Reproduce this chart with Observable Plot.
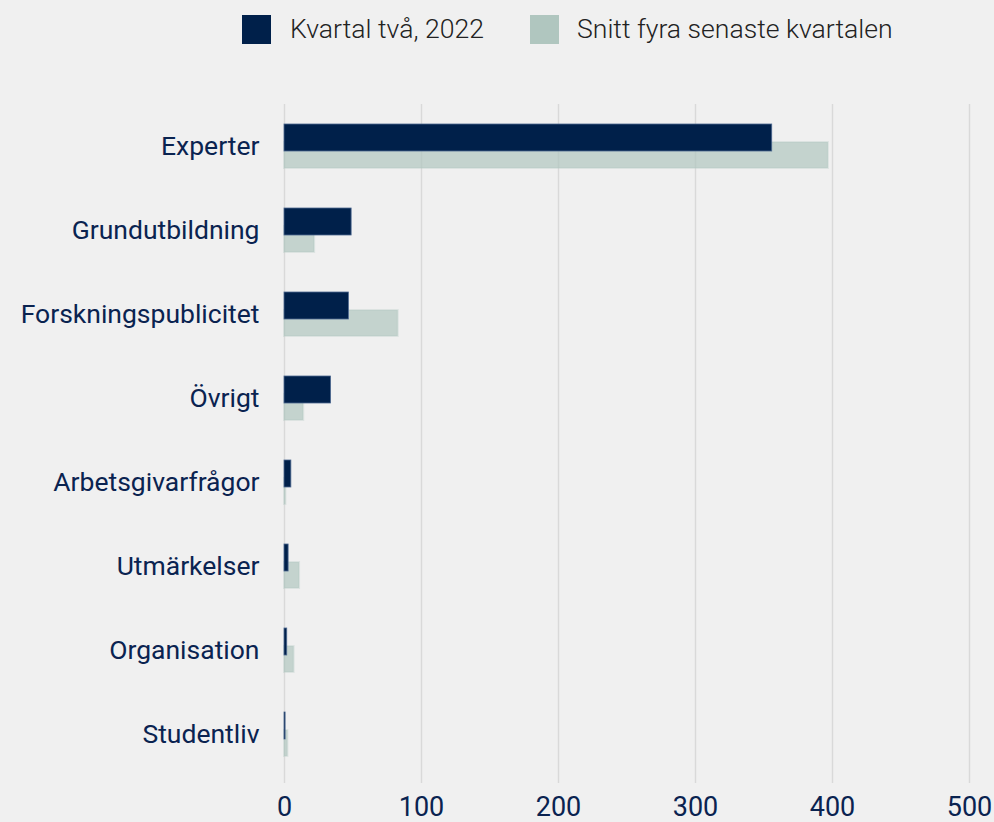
<!DOCTYPE html>
<html>
<head>
<meta charset="utf-8">
<script src="https://cdn.jsdelivr.net/npm/d3@7"></script>
<script src="https://cdn.jsdelivr.net/npm/@observablehq/plot@0.6"></script>
<style>
  html, body { margin: 0; padding: 0; background: #f0f0f0; }
  #wrap { position: relative; width: 994px; height: 822px; background: #f0f0f0; font-family: Roboto, "Noto Sans", sans-serif; }
  #legend { position: relative; width: 994px; height: 60px; }
  .sw { position: absolute; top: 15px; width: 29px; height: 29px; }
  .lt { position: absolute; top: 11px; font-size: 26.6px; font-weight: 300; color: #222; line-height: 36px; white-space: nowrap; }
  #chart svg { display: block; }
</style>
</head>
<body>
<div id="wrap">
  <div id="legend"></div>
  <div id="chart"></div>
</div>
<script>
const categories = ["Experter", "Grundutbildning", "Forskningspublicitet", "Övrigt", "Arbetsgivarfrågor", "Utmärkelser", "Organisation", "Studentliv"];
const kvartal = [356, 49, 47, 34, 5, 3, 2, 0.8];
const snitt = [397, 22, 83, 14, 1, 11, 7, 2.5];
const xTicks = [0, 100, 200, 300, 400, 500];
const seriesNames = ["Kvartal två, 2022", "Snitt fyra senaste kvartalen"];
const seriesColors = ["#00204a", "#b0c6bf"];

// legend
const legend = document.getElementById("legend");
const legendPos = [{sw: 242, tx: 290}, {sw: 530, tx: 577}];
seriesNames.forEach((name, i) => {
  const s = document.createElement("div");
  s.className = "sw";
  s.style.left = legendPos[i].sw + "px";
  s.style.background = seriesColors[i];
  legend.appendChild(s);
  const t = document.createElement("div");
  t.className = "lt";
  t.style.left = legendPos[i].tx + "px";
  t.textContent = name;
  legend.appendChild(t);
});

const dataK = categories.map((c, i) => ({category: c, value: kvartal[i]}));
const dataS = categories.map((c, i) => ({category: c, value: snitt[i]}));

const navy = "#0a2350";
const chart = Plot.plot({
  width: 994,
  height: 762,
  marginTop: 44,
  marginBottom: 39,
  marginLeft: 284,
  marginRight: 25,
  style: {background: "#f0f0f0", fontFamily: "Roboto, 'Noto Sans', sans-serif", overflow: "visible"},
  x: {domain: [0, 500], ticks: xTicks},
  y: {domain: categories, range: [43.5, 715.5], padding: 0},
  marks: [
    Plot.ruleX(xTicks, {stroke: "#d9d9d9", strokeWidth: 1.5}),
    Plot.barX(dataS, {x: "value", y: "category", fill: seriesColors[1], fillOpacity: 0.7, stroke: seriesColors[1], strokeOpacity: 0.3, strokeWidth: 2, insetTop: 38, insetBottom: 20}),
    Plot.barX(dataK, {x: "value", y: "category", fill: seriesColors[0], stroke: "#4d6890", strokeWidth: 0.8, insetTop: 20, insetBottom: 37}),
    Plot.axisY({tickSize: 0, tickPadding: 25, fontSize: 26.5, color: navy, label: null}),
    Plot.axisX({anchor: "bottom", ticks: xTicks, tickSize: 0, tickPadding: 13, fontSize: 27, color: navy, label: null})
  ]
});
document.getElementById("chart").appendChild(chart);
</script>
</body>
</html>
